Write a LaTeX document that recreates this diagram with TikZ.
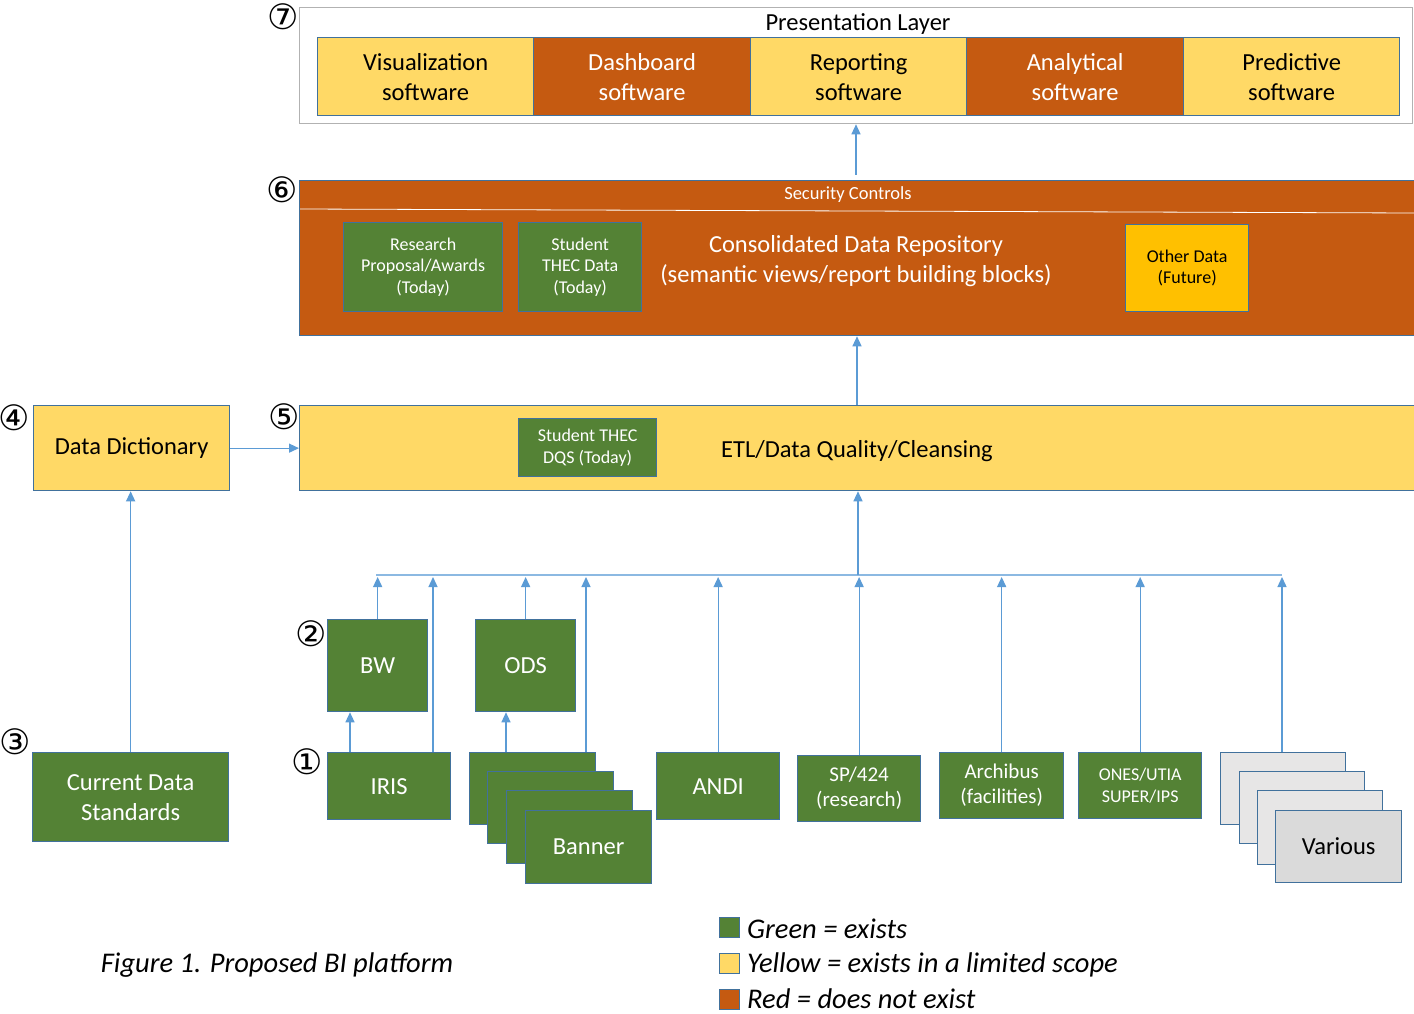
\documentclass[tikz,border=0pt]{standalone}
\usepackage{fontspec}
\setmainfont{Carlito}
\newfontfamily\circfont{DejaVu Sans}
\usetikzlibrary{arrows.meta,calc}
\definecolor{gr}{HTML}{548235}
\definecolor{orn}{HTML}{C55A11}
\definecolor{yel}{HTML}{FFD966}
\definecolor{gold}{HTML}{FFC000}
\definecolor{bord}{HTML}{41719C}
\definecolor{arrc}{HTML}{5B9BD5}
\definecolor{lg}{HTML}{E7E6E6}
\definecolor{mg}{HTML}{DADADA}
\begin{document}
\begin{tikzpicture}[x=1pt,y=-1pt,
  bx/.style={draw=bord,line width=1.3pt,inner sep=0pt,anchor=north west,align=center},
  big/.style={font=\fontsize{24.5}{30}\selectfont},
  mid/.style={font=\fontsize{21}{25}\selectfont},
  sml/.style={font=\fontsize{18}{21.5}\selectfont},
  gbox/.style={bx,fill=gr,text=white},
  obox/.style={bx,fill=orn,text=white},
  ybox/.style={bx,fill=yel,text=black},
  arr/.style={draw=arrc,line width=1.3pt,-{Triangle[width=9pt,length=10pt]}},
  ln/.style={draw=arrc,line width=1.3pt},
  num/.style={font=\circfont\fontsize{35}{35}\selectfont,inner sep=0pt},
  leg/.style={font=\fontsize{28.5}{31}\selectfont\itshape,inner sep=0pt}]
\useasboundingbox (0,0) rectangle (1414,1014);
\fill[white] (0,0) rectangle (1414,1014);

% Presentation layer
\node[draw=black!30,line width=1.3pt,inner sep=0pt,anchor=north west,minimum width=1113pt,minimum height=116pt] (pres) at (299,7) {};
\node[big,inner sep=0pt] (prestitle) at (858,24) {Presentation Layer};
\node[ybox,big,minimum width=216pt,minimum height=78pt] (vis) at (317,37) {Visualization\\software};
\node[obox,big,minimum width=217pt,minimum height=78pt] (dash) at (533,37) {Dashboard\\software};
\node[ybox,big,minimum width=216pt,minimum height=78pt] (rep) at (750,37) {Reporting\\software};
\node[obox,big,minimum width=217pt,minimum height=78pt] (ana) at (966,37) {Analytical\\software};
\node[ybox,big,minimum width=216pt,minimum height=78pt] (pred) at (1183,37) {Predictive\\software};

% Security / repository
\node[obox,minimum width=1118pt,minimum height=155pt] (sec) at (299,180) {};
\coordinate (secl) at (300,209);
\coordinate (secr) at (1414,213);
\draw[white,line width=0.8pt] (secl) -- (secr);
\node[text=white,font=\fontsize{18.5}{22}\selectfont,inner sep=0pt] (sectitle) at (848,195) {Security Controls};
\node[gbox,sml,minimum width=159pt,minimum height=89pt] (research) at (343,222) {Research\\Proposal/Awards\\(Today)};
\node[gbox,sml,minimum width=123pt,minimum height=89pt] (stud) at (518,222) {Student\\THEC Data\\(Today)};
\node[text=white,big,align=center,inner sep=0pt] (cons) at (856,261) {Consolidated Data Repository\\(semantic views/report building blocks)};
\node[bx,fill=gold,sml,minimum width=123pt,minimum height=87pt] (other) at (1125,224) {Other Data\\(Future)};

% ETL
\node[ybox,minimum width=1118pt,minimum height=85pt] (etl) at (299,405) {};
\node[big,inner sep=0pt] (etltext) at (857,451) {ETL/Data Quality/Cleansing};
\node[gbox,sml,minimum width=138pt,minimum height=58pt] (dqs) at (518,418) {Student THEC\\DQS (Today)};

% Data dictionary & standards
\node[ybox,big,minimum width=196pt,minimum height=85pt] (dict) at (33,405) {Data Dictionary};
\node[gbox,big,minimum width=196pt,minimum height=89pt] (std) at (32,752) {Current Data\\Standards};

% sources
\node[gbox,big,minimum width=100pt,minimum height=92pt] (bw) at (327,619) {BW};
\node[gbox,big,minimum width=100pt,minimum height=92pt] (ods) at (475,619) {ODS};
\node[gbox,big,minimum width=123pt,minimum height=67pt] (iris) at (327,752) {IRIS};
\node[gbox,minimum width=126pt,minimum height=72pt] (ban1) at (469,752) {};
\node[gbox,minimum width=126pt,minimum height=72pt] (ban2) at (487,771) {};
\node[gbox,minimum width=126pt,minimum height=73pt] (ban3) at (506,790) {};
\node[gbox,big,minimum width=126pt,minimum height=73pt] (ban4) at (525,810) {Banner};
\node[gbox,big,minimum width=123pt,minimum height=67pt] (andi) at (656,752) {ANDI};
\node[gbox,mid,minimum width=123pt,minimum height=66pt] (sp) at (797,755) {SP/424\\(research)};
\node[gbox,mid,minimum width=124pt,minimum height=66pt] (arch) at (939,752) {Archibus\\(facilities)};
\node[gbox,sml,minimum width=123pt,minimum height=66pt] (ones) at (1078,752) {ONES/UTIA\\SUPER/IPS};
\node[bx,fill=lg,minimum width=125pt,minimum height=72pt] (var1) at (1220,752) {};
\node[bx,fill=lg,minimum width=125pt,minimum height=72pt] (var2) at (1239,771) {};
\node[bx,fill=lg,minimum width=125pt,minimum height=74pt] (var3) at (1257,790) {};
\node[bx,fill=mg,big,minimum width=126pt,minimum height=72pt] (var4) at (1275,810) {Various};

% bus
\coordinate (busL) at (376,575);
\coordinate (busR) at (1282,575);
\coordinate (busM) at (858,575);
\draw[ln,draw=arrc!70] (busL) -- (busR);
\draw[arr] (busM) -- (busM |- etl.south);
\draw[arr] (bw.north) -- (bw.north |- 0,577);
\coordinate (irisup) at (433,752);
\draw[arr] (irisup) -- (irisup |- 0,577);
\coordinate (irisbw) at (350,752);
\draw[arr] (irisbw) -- (irisbw |- bw.south);
\draw[arr] (ods.north) -- (ods.north |- 0,577);
\coordinate (banup) at (586,752);
\draw[arr] (banup) -- (banup |- 0,577);
\coordinate (banods) at (506,752);
\draw[arr] (banods) -- (banods |- ods.south);
\draw[arr] (andi.north) -- (andi.north |- 0,577);
\draw[arr] (sp.north) -- (sp.north |- 0,577);
\draw[arr] (arch.north) -- (arch.north |- 0,577);
\draw[arr] (ones.north) -- (ones.north |- 0,577);
\coordinate (varup) at (1282,752);
\draw[arr] (varup) -- (varup |- 0,577);

% other connectors
\draw[arr] (std.north) -- (std.north |- dict.south);
\draw[arr] (dict.east) -- (dict.east -| etl.west);
\coordinate (etlup) at (857,405);
\draw[arr] (etlup) -- (etlup |- sec.south);
\coordinate (secup) at (856,175);
\draw[arr] (secup) -- (secup |- pres.south);

% circled numbers
\node[num] (n7) at (283,17) {⑦};
\node[num] (n6) at (282,190) {⑥};
\node[num] (n5) at (284,417) {⑤};
\node[num] (n4) at (14,418) {④};
\node[num] (n3) at (15,742) {③};
\node[num] (n2) at (311,634) {②};
\node[num] (n1) at (307,762) {①};

% caption and legend
\node[leg] (cap) at (277,965) {Figure 1. Proposed BI platform};
\node[bx,fill=gr,minimum width=20pt,minimum height=20pt] (lg1) at (719,917) {};
\node[bx,fill=yel,minimum width=20pt,minimum height=20pt] (lg2) at (719,953) {};
\node[bx,fill=orn,minimum width=20pt,minimum height=20pt] (lg3) at (719,989) {};
\node[leg,anchor=west] (lt1) at (747,929) {Green = exists};
\node[leg,anchor=west] (lt2) at (747,965) {Yellow = exists in a limited scope};
\node[leg,anchor=west] (lt3) at (747,999) {Red = does not exist};
\end{tikzpicture}
\end{document}
